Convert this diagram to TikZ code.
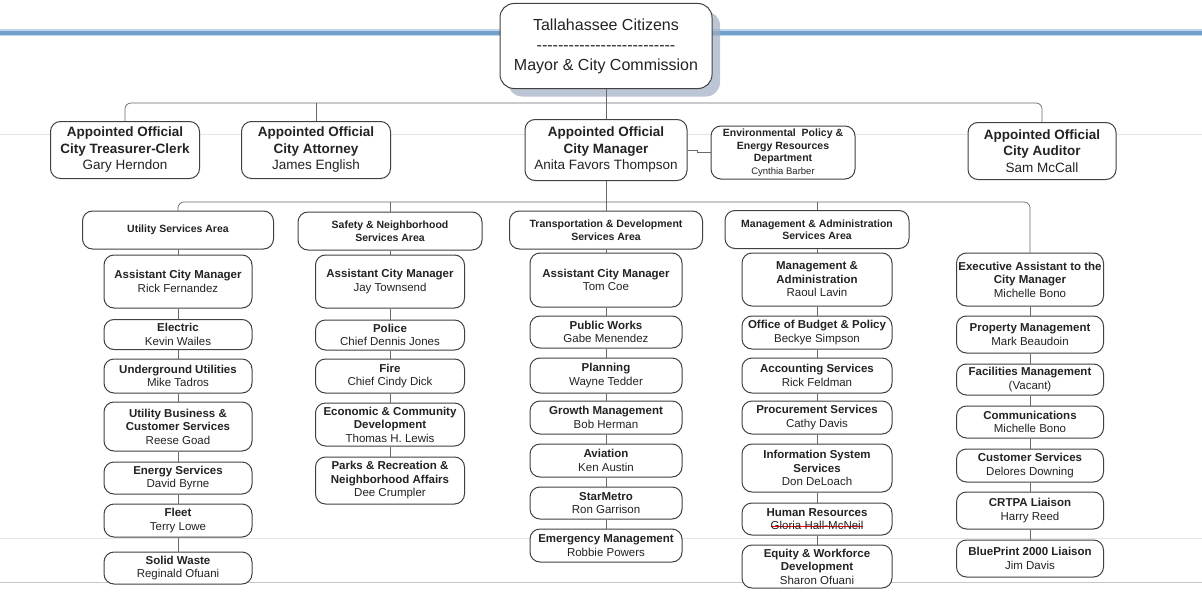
\documentclass[tikz,border=0pt]{standalone}
\usepackage{fontspec}
\setmainfont{Liberation Sans}
\usetikzlibrary{calc,shadows}
\definecolor{BoxLine}{RGB}{65,65,65}
\definecolor{LinkGray}{RGB}{105,105,105}
\definecolor{InkGray}{RGB}{35,35,35}
\definecolor{HeadBlue}{RGB}{112,160,204}
\definecolor{PaleBlue}{RGB}{192,214,234}
\definecolor{ShadowBlue}{RGB}{160,172,192}
\definecolor{ScanGray}{RGB}{228,228,228}
% red strike through a name that is no longer current
\newsavebox{\strikebox}
\newcommand{\redsout}[1]{\sbox{\strikebox}{#1}%
  \rlap{\textcolor{red}{\rule[0.3em]{\wd\strikebox}{0.7pt}}}\usebox{\strikebox}}
\newcommand{\dashrow}{\foreach \k in {1,...,26}{-}}
\tikzset{
  box/.style={draw=BoxLine,line width=1pt,fill=white,rounded corners=10pt,
    align=center,inner sep=1pt,text=InkGray},
  official/.style={box,font=\fontsize{13.5}{16.5}\selectfont},
  area/.style={box,font=\bfseries\fontsize{10.5}{12.5}\selectfont},
  unit/.style={box,font=\fontsize{11.5}{13.5}\selectfont},
  link/.style={draw=LinkGray,line width=0.7pt},
  scanline/.style={draw=ScanGray,line width=0.8pt},
}

\begin{document}
\begin{tikzpicture}[x=1pt,y=-1pt]
\useasboundingbox (0,0) rectangle (1202,610);

% faint page rules and the banner stripe
\draw[scanline] (0,134) -- (1202,134);
\draw[scanline] (0,538) -- (1202,538);
\draw[scanline,draw=black!22] (0,582) -- (1202,582);
\draw[PaleBlue,line width=7pt] (0,33) -- (1202,33);
\draw[HeadBlue,line width=3.2pt] (0,33) -- (1202,33);

% citizens and commission
\node[box,rounded corners=14pt,minimum width=212,minimum height=85,font=\fontsize{16}{20}\selectfont,
  drop shadow={shadow xshift=8pt,shadow yshift=-8pt,fill=ShadowBlue,opacity=.7}]
  (council) at (606,46) {Tallahassee Citizens\\\dashrow\\Mayor \& City Commission};

% appointed officials
\node[official,minimum width=149,minimum height=57] (treasurer) at (125,150)
  {\textbf{Appointed Official}\\\textbf{City Treasurer-Clerk}\\Gary Herndon};
\node[official,minimum width=149,minimum height=57] (attorney) at (316,150)
  {\textbf{Appointed Official}\\\textbf{City Attorney}\\James English};
\node[official,minimum width=162,minimum height=61] (manager) at (606,150)
  {\textbf{Appointed Official}\\\textbf{City Manager}\\Anita Favors Thompson};
\node[box,minimum width=144,minimum height=53,font=\bfseries\fontsize{10.5}{12.5}\selectfont] (envdept) at (783,152.5)
  {Environmental\ \ Policy \&\\Energy Resources\\Department\\{\mdseries\fontsize{9.5}{12}\selectfont Cynthia Barber}};
\node[official,minimum width=148,minimum height=57] (auditor) at (1042,151)
  {\textbf{Appointed Official}\\\textbf{City Auditor}\\Sam McCall};

\draw[link] (council.south) -- (manager.north);
\draw[link,rounded corners=6pt] (treasurer.north) |- (auditor.north |- 0,103) -- (auditor.north);
\draw[link] (attorney.north) -- (attorney.north |- 0,103);
\draw[link] (manager.east) -- ++(10,0) |- (envdept.west);

% service areas
\node[area,minimum width=191,minimum height=38] (utility) at (178,230) {Utility Services Area};
\node[area,minimum width=184,minimum height=38] (safety) at (390,231) {Safety \& Neighborhood\\Services Area};
\node[area,minimum width=193,minimum height=38] (transport) at (606,230) {Transportation \& Development\\Services Area};
\node[area,minimum width=184,minimum height=38] (mgmt) at (817,229.5) {Management \& Administration\\Services Area};

% utility services
\node[unit,minimum width=148,minimum height=53] (acmUtil) at (178,281.5) {\textbf{Assistant City Manager}\\Rick Fernandez};
\node[unit,minimum width=148,minimum height=30] (electric) at (178,334.5) {\textbf{Electric}\\Kevin Wailes};
\node[unit,minimum width=148,minimum height=34] (underground) at (178,376) {\textbf{Underground Utilities}\\Mike Tadros};
\node[unit,minimum width=148,minimum height=49] (utilbiz) at (178,426.5) {\textbf{Utility Business \&}\\\textbf{Customer Services}\\Reese Goad};
\node[unit,minimum width=148,minimum height=32] (energy) at (178,478) {\textbf{Energy Services}\\David Byrne};
\node[unit,minimum width=148,minimum height=33] (fleet) at (178,520.5) {\textbf{Fleet}\\Terry Lowe};
\node[unit,minimum width=148,minimum height=32] (solidwaste) at (178,568) {\textbf{Solid Waste}\\Reginald Ofuani};

% safety and neighborhood
\node[unit,minimum width=149,minimum height=53] (acmSafety) at (390,281.5) {\textbf{Assistant City Manager}\\Jay Townsend};
\node[unit,minimum width=149,minimum height=30] (police) at (390,335) {\textbf{Police}\\Chief Dennis Jones};
\node[unit,minimum width=149,minimum height=34] (fire) at (390,376) {\textbf{Fire}\\Chief Cindy Dick};
\node[unit,minimum width=149,minimum height=43] (econdev) at (390,424.5) {\textbf{Economic \& Community}\\\textbf{Development}\\Thomas H. Lewis};
\node[unit,minimum width=149,minimum height=47] (parks) at (390,480.5) {\textbf{Parks \& Recreation \&}\\\textbf{Neighborhood Affairs}\\Dee Crumpler};

% transportation and development
\node[unit,minimum width=152,minimum height=54] (acmTrans) at (606,280) {\textbf{Assistant City Manager}\\Tom Coe};
\node[unit,minimum width=152,minimum height=32] (publicworks) at (606,332) {\textbf{Public Works}\\Gabe Menendez};
\node[unit,minimum width=152,minimum height=35] (planning) at (606,375.5) {\textbf{Planning}\\Wayne Tedder};
\node[unit,minimum width=152,minimum height=33] (growth) at (606,417.5) {\textbf{Growth Management}\\Bob Herman};
\node[unit,minimum width=152,minimum height=33] (aviation) at (606,460.5) {\textbf{Aviation}\\Ken Austin};
\node[unit,minimum width=152,minimum height=32] (starmetro) at (606,503) {\textbf{StarMetro}\\Ron Garrison};
\node[unit,minimum width=152,minimum height=33] (emergency) at (606,545.5) {\textbf{Emergency Management}\\Robbie Powers};

% management and administration
\node[unit,minimum width=150,minimum height=53] (mgmtadmin) at (817,279.5) {\textbf{Management \&}\\\textbf{Administration}\\Raoul Lavin};
\node[unit,minimum width=150,minimum height=33] (budget) at (817,332.5) {\textbf{Office of Budget \& Policy}\\Beckye Simpson};
\node[unit,minimum width=150,minimum height=35] (accounting) at (817,375.5) {\textbf{Accounting Services}\\Rick Feldman};
\node[unit,minimum width=150,minimum height=33] (procurement) at (817,417.5) {\textbf{Procurement Services}\\Cathy Davis};
\node[unit,minimum width=150,minimum height=48] (infosys) at (817,468) {\textbf{Information System}\\\textbf{Services}\\Don DeLoach};
\node[unit,minimum width=150,minimum height=32] (hr) at (817,519) {\textbf{Human Resources}\\\redsout{Gloria Hall-McNeil}};
\node[unit,minimum width=150,minimum height=43] (equity) at (817,566.5) {\textbf{Equity \& Workforce}\\\textbf{Development}\\Sharon Ofuani};

% city manager's own office
\node[unit,minimum width=147,minimum height=53] (exec) at (1030,279.5) {\textbf{Executive Assistant to the}\\\textbf{City Manager}\\Michelle Bono};
\node[unit,minimum width=147,minimum height=37] (property) at (1030,334.5) {\textbf{Property Management}\\Mark Beaudoin};
\node[unit,minimum width=147,minimum height=31] (facilities) at (1030,379.5) {\textbf{Facilities Management}\\(Vacant)};
\node[unit,minimum width=147,minimum height=32] (comms) at (1030,422) {\textbf{Communications}\\Michelle Bono};
\node[unit,minimum width=147,minimum height=33] (customer) at (1030,465.5) {\textbf{Customer Services}\\Delores Downing};
\node[unit,minimum width=147,minimum height=37] (crtpa) at (1030,510.5) {\textbf{CRTPA Liaison}\\Harry Reed};
\node[unit,minimum width=147,minimum height=37] (blueprint) at (1030,558.5) {\textbf{BluePrint 2000 Liaison}\\Jim Davis};

% manager to the areas
\draw[link,rounded corners=6pt] (utility.north) |- (exec.north |- 0,202) -- (exec.north);
\draw[link] (manager.south) -- (transport.north);
\draw[link] (safety.north) -- (safety.north |- 0,202);
\draw[link] (mgmt.north) -- (mgmt.north |- 0,202);

% chains down each column
\foreach \a/\b in {utility/acmUtil,acmUtil/electric,electric/underground,underground/utilbiz,
    utilbiz/energy,energy/fleet,fleet/solidwaste,
    safety/acmSafety,acmSafety/police,police/fire,fire/econdev,econdev/parks,
    transport/acmTrans,acmTrans/publicworks,publicworks/planning,planning/growth,
    growth/aviation,aviation/starmetro,starmetro/emergency,
    mgmt/mgmtadmin,mgmtadmin/budget,budget/accounting,accounting/procurement,
    procurement/infosys,infosys/hr,hr/equity,
    exec/property,property/facilities,facilities/comms,comms/customer,
    customer/crtpa,crtpa/blueprint}
  \draw[link] (\a) -- (\b);
\end{tikzpicture}
\end{document}
